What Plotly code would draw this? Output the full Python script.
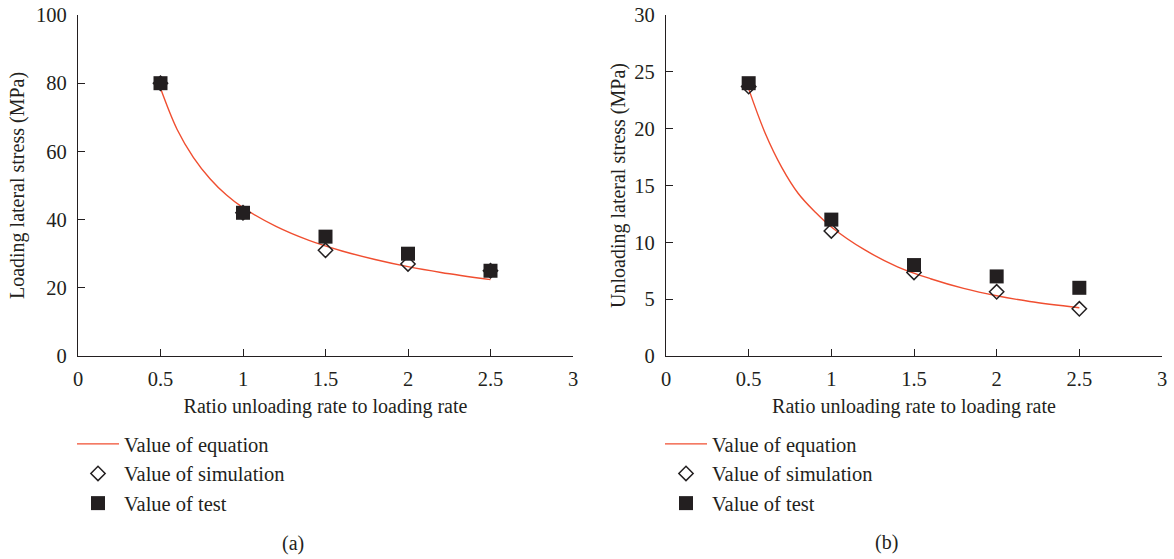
import plotly.graph_objects as go

# ---- data ----
ratio = [0.5, 1.0, 1.5, 2.0, 2.5]

# (a) loading lateral stress (MPa)
load_sim = [80, 42, 31, 27, 25]
load_test = [80, 42, 35, 30, 25]
load_eq_x = [0.5, 0.6, 0.7, 0.8, 0.9, 1.0, 1.2, 1.4, 1.6, 1.8, 2.0, 2.2, 2.5]
load_eq_y = [78.5, 66.5, 58.2, 52.0, 47.2, 43.5, 38.0, 33.9, 30.8, 28.3, 26.2, 24.5, 22.4]

# (b) unloading lateral stress (MPa)
unload_sim = [23.7, 11.0, 7.35, 5.65, 4.15]
unload_test = [24, 12, 8, 7, 6]
unload_eq_x = [0.5, 0.6, 0.7, 0.8, 0.9, 1.0, 1.2, 1.4, 1.6, 1.8, 2.0, 2.2, 2.5]
unload_eq_y = [23.5, 19.6, 16.6, 14.3, 12.7, 11.35, 9.35, 7.85, 6.8, 5.95, 5.3, 4.8, 4.25]

x_ticks = [0, 0.5, 1, 1.5, 2, 2.5, 3]
x_ticktext = ["0", "0.5", "1", "1.5", "2", "2.5", "3"]
x_title = "Ratio unloading rate to loading rate"
y_title_a = "Loading lateral stress (MPa)"
y_title_b = "Unloading lateral stress (MPa)"
names = ["Value of equation", "Value of simulation", "Value of test"]
captions = ["(a)", "(b)"]

# ---- style ----
W, H = 1174, 559
INK = "#231f20"
RED = "#f04e30"
FONT = "Liberation Serif"
FS = 20
FS_TICK = 20.5
FS_LEG = 20.5

fig = go.Figure()

def add_panel(xa, ya, legend, eq_x, eq_y, sim, test):
    fig.add_trace(go.Scatter(x=eq_x, y=eq_y, mode="lines", name=names[0],
                             line=dict(color=RED, width=1.4, shape="spline", smoothing=1.0),
                             xaxis=xa, yaxis=ya, legend=legend, legendgroup=legend + "e"))
    fig.add_trace(go.Scatter(x=ratio, y=sim, mode="markers", name=names[1],
                             marker=dict(symbol="diamond-open", size=11, color=INK,
                                         line=dict(color=INK, width=1.5)),
                             xaxis=xa, yaxis=ya, legend=legend, legendgroup=legend + "s"))
    fig.add_trace(go.Scatter(x=ratio, y=test, mode="markers", name=names[2],
                             marker=dict(symbol="square", size=14, color=INK,
                                         line=dict(width=0)),
                             xaxis=xa, yaxis=ya, legend=legend, legendgroup=legend + "t"))

add_panel("x", "y", "legend", load_eq_x, load_eq_y, load_sim, load_test)
add_panel("x2", "y2", "legend2", unload_eq_x, unload_eq_y, unload_sim, unload_test)

def xaxis(domain, anchor):
    return dict(domain=domain, anchor=anchor, range=[0, 3], tickvals=x_ticks,
                ticktext=x_ticktext, ticks="inside", ticklen=7, tickwidth=1.2,
                tickcolor=INK, showline=True, linecolor=INK, linewidth=1.3,
                showgrid=False, zeroline=False, ticklabelstandoff=4, automargin=False,
                tickfont=dict(family=FONT, size=FS_TICK, color=INK),
                title=dict(text=x_title, font=dict(family=FONT, size=FS, color=INK), standoff=10))

def yaxis(domain, anchor, rng, dtick, title, standoff):
    return dict(domain=domain, anchor=anchor, range=rng, dtick=dtick,
                ticks="inside", ticklen=7, tickwidth=1.2, tickcolor=INK,
                showline=True, linecolor=INK, linewidth=1.3, showgrid=False,
                zeroline=False, ticklabelstandoff=6, automargin=False,
                tickfont=dict(family=FONT, size=FS_TICK, color=INK),
                title=dict(text=title, font=dict(family=FONT, size=FS, color=INK), standoff=standoff))

ydom = [1 - 356 / H, 1 - 15 / H]
fig.update_layout(
    width=W, height=H,
    margin=dict(l=0, r=0, t=0, b=0, autoexpand=False),
    paper_bgcolor="white", plot_bgcolor="white",
    font=dict(family=FONT, size=FS, color=INK),
    xaxis=xaxis([78 / W, 573 / W], "y"),
    yaxis=yaxis(ydom, "x", [0, 100], 20, y_title_a, 6),
    xaxis2=xaxis([666 / W, 1162 / W], "y2"),
    yaxis2=yaxis(ydom, "x2", [0, 30], 5, y_title_b, 3),
    legend=dict(x=72 / W, y=1 - 424 / H, xanchor="left", yanchor="top",
                bgcolor="rgba(0,0,0,0)", borderwidth=0, itemwidth=42,
                tracegroupgap=0, font=dict(family=FONT, size=FS_LEG, color=INK)),
    legend2=dict(x=660 / W, y=1 - 424 / H, xanchor="left", yanchor="top",
                 bgcolor="rgba(0,0,0,0)", borderwidth=0, itemwidth=42,
                 tracegroupgap=0, font=dict(family=FONT, size=FS_LEG, color=INK)),
    annotations=[
        dict(text=captions[0], x=293 / W, y=1 - 543 / H, xref="paper", yref="paper",
             xanchor="center", yanchor="middle",
             showarrow=False, font=dict(family=FONT, size=FS, color=INK)),
        dict(text=captions[1], x=886 / W, y=1 - 542 / H, xref="paper", yref="paper",
             xanchor="center", yanchor="middle",
             showarrow=False, font=dict(family=FONT, size=FS, color=INK)),
    ],
)

fig.write_html("out.html", config={"displayModeBar": False},
               post_script="document.body.style.margin='0px';")
